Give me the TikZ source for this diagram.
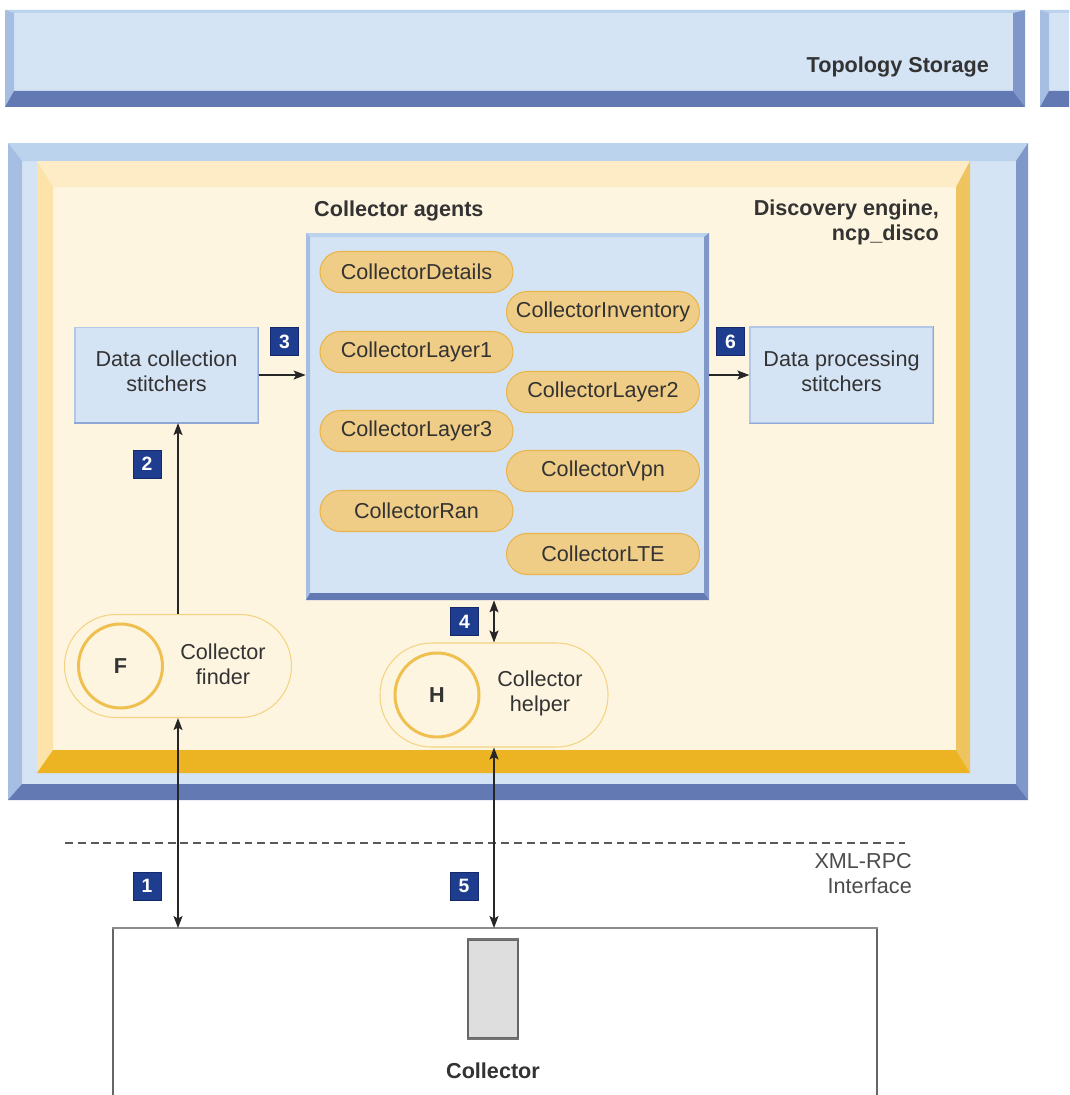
\documentclass[tikz,border=0pt]{standalone}
\usepackage{fontspec}
\setmainfont{Liberation Sans}
\usetikzlibrary{arrows.meta}

% palette
\definecolor{blFace}{HTML}{D5E4F5}
\definecolor{blTop}{HTML}{BCD3EE}
\definecolor{blLeft}{HTML}{A6BEE2}
\definecolor{blRight}{HTML}{7F97C9}
\definecolor{blBot}{HTML}{6379B3}
\definecolor{ylFace}{HTML}{FEF5E0}
\definecolor{ylTop}{HTML}{FDECC6}
\definecolor{ylLeft}{HTML}{FDE3A8}
\definecolor{ylRight}{HTML}{EEC460}
\definecolor{ylBot}{HTML}{ECB422}
\definecolor{pillFill}{HTML}{F0CD86}
\definecolor{pillLine}{HTML}{E8B44C}
\definecolor{ringLine}{HTML}{F4D383}
\definecolor{discLine}{HTML}{EFC04F}
\definecolor{badgeBlue}{HTML}{1F3D8E}
\definecolor{badgeEdge}{HTML}{15296A}
\definecolor{txt}{HTML}{333333}
\definecolor{boxLine}{HTML}{B3C8E6}
\definecolor{boxShade}{HTML}{8FA8D6}

\newcommand\pxu{0.02cm}

% bevelled frame: x1 y1 x2 y2, widths top left right bottom, palette prefix
\newcommand\bevbox[9]{%
  \fill[#9Face] (#1,#2) rectangle (#3,#4);
  \fill[#9Top] (#1,#2) -- (#3,#2) -- ({#3-#7},{#2+#5}) -- ({#1+#6},{#2+#5}) -- cycle;
  \fill[#9Left] (#1,#2) -- ({#1+#6},{#2+#5}) -- ({#1+#6},{#4-#8}) -- (#1,#4) -- cycle;
  \fill[#9Right] (#3,#2) -- (#3,#4) -- ({#3-#7},{#4-#8}) -- ({#3-#7},{#2+#5}) -- cycle;
  \fill[#9Bot] (#1,#4) -- (#3,#4) -- ({#3-#7},{#4-#8}) -- ({#1+#6},{#4-#8}) -- cycle;
}

\tikzset{
  base/.style={font=\fontsize{12.3}{14.2}\selectfont, text=txt},
  title/.style={base, font=\fontsize{12.3}{14.2}\selectfont\bfseries},
  stitchbox/.style={draw=boxLine, line width=0.7pt, fill=blFace, inner sep=0pt},
  agent/.style={base, draw=pillLine, line width=0.6pt, fill=pillFill,
    rounded corners=20.5*\pxu, minimum width=193*\pxu, minimum height=41*\pxu,
    inner sep=0pt},
  ringpill/.style={draw=ringLine, line width=0.6pt, fill=ylFace,
    rounded corners=51.5*\pxu, minimum width=227*\pxu, minimum height=103*\pxu,
    inner sep=0pt},
  disc/.style={circle, draw=discLine, line width=1.7pt, fill=ylFace,
    minimum size=84*\pxu, inner sep=0pt, base, font=\fontsize{12.3}{14.2}\selectfont\bfseries},
  badge/.style={fill=badgeBlue, draw=badgeEdge, line width=0.5pt, text=white,
    font=\fontsize{11}{12}\selectfont\bfseries, minimum width=28*\pxu,
    minimum height=28*\pxu, inner sep=0pt},
  link/.style={draw=black!85, line width=0.7pt},
  tip/.tip={Stealth[length=2.4mm, width=1.8mm, inset=0.5mm]},
}

\begin{document}
\begin{tikzpicture}[x=0.02cm, y=-0.02cm]
  \useasboundingbox (0,0) rectangle (1069,1095);
  \clip (0,0) rectangle (1069,1095);
  \fill[white] (0,0) rectangle (1069,1095);

  % storage bar and its neighbour
  \bevbox{5}{10}{1025}{107}{3}{9}{12}{16}{bl}
  \bevbox{1040}{10}{1120}{107}{3}{9}{12}{16}{bl}
  \node[title, anchor=east] (storage) at (995,67) {Topology Storage};

  % discovery engine frames
  \bevbox{8}{143}{1028}{800}{18}{14}{12}{16}{bl}
  \bevbox{37}{161}{970}{773}{26}{16}{14}{23}{yl}
  \node[title, anchor=east, align=right] (engine) at (945,222.5)
    {Discovery engine,\\ncp\_disco};

  % collector agents container
  \bevbox{306}{233}{709}{600}{4}{4}{5}{7}{bl}
  \node[inner sep=0pt, minimum width=403*\pxu, minimum height=367*\pxu]
    (agents) at (507.5,416.5) {};
  \node[title, anchor=west] (agentstitle) at (308,211) {Collector agents};

  \node[agent] (cdet) at (416.5,272) {CollectorDetails};
  \node[agent] (cinv) at (603,312) {CollectorInventory};
  \node[agent] (cl1)  at (416.5,352) {CollectorLayer1};
  \node[agent] (cl2)  at (603,392) {CollectorLayer2};
  \node[agent] (cl3)  at (416.5,431) {CollectorLayer3};
  \node[agent] (cvpn) at (603,471) {CollectorVpn};
  \node[agent] (cran) at (416.5,511) {CollectorRan};
  \node[agent] (clte) at (603,554) {CollectorLTE};

  % stitchers
  \node[stitchbox, minimum width=183*\pxu, minimum height=95*\pxu]
    (dcs) at (166.5,375) {};
  \draw[boxShade, line width=0.8pt] (dcs.north east) -- (dcs.south east) -- (dcs.south west);
  \node[base, align=center] (dcstext) at ([yshift=4*\pxu]dcs.center)
    {Data collection\\stitchers};
  \node[stitchbox, minimum width=183*\pxu, minimum height=96*\pxu]
    (dps) at (841.5,375) {};
  \draw[boxShade, line width=0.8pt] (dps.north east) -- (dps.south east) -- (dps.south west);
  \node[base, align=center] (dpstext) at ([yshift=4*\pxu]dps.center)
    {Data processing\\stitchers};

  % finder and helper
  \node[ringpill] (finder) at (178,666) {};
  \node[disc] (fdisc) at (120.5,666) {F};
  \node[base, align=center] (ftext) at (223,664) {Collector\\finder};

  \node[ringpill, minimum width=228*\pxu, minimum height=104*\pxu]
    (helper) at (494,695) {};
  \node[disc] (hdisc) at (437,695) {H};
  \node[base, align=center] (htext) at (540,693) {Collector\\helper};

  % XML-RPC boundary
  \coordinate (dashL) at (65,843);
  \coordinate (dashR) at (905,843);
  \draw[draw=black!65, line width=0.6pt, dash pattern=on 4.5pt off 2.8pt]
    (dashL) -- (dashR);
  \node[base, text=black!70, anchor=east, align=right] (xmlrpc) at (918,874)
    {XML-RPC\\Interface};

  % collector process
  \node[draw=black!60, line width=0.7pt, fill=white, minimum width=764*\pxu,
    minimum height=220*\pxu, anchor=north, inner sep=0pt] (coll) at (495,928) {};
  \draw[black!45, line width=1.4pt] (coll.north west) -- (coll.north east);
  \node[draw=black!60, line width=0.7pt, fill=black!13, minimum width=50*\pxu,
    minimum height=98*\pxu, inner sep=0pt] (slot) at (493,989) {};
  \draw[black!55, line width=1.2pt] (slot.north west) -- (slot.north east);
  \draw[black!55, line width=1.2pt] (slot.south west) -- (slot.south east);
  \node[title] (colltitle) at (493,1071) {Collector};

  % connectors
  \draw[link, tip-tip] (finder.south) -- (finder.south |- coll.north);
  \draw[link, -tip] (finder.north) -- (finder.north |- dcs.south);
  \draw[link, -tip] (dcs.east) -- (dcs.east -| agents.west);
  \draw[link, -tip] (agents.east |- dps.west) -- (dps.west);
  \draw[link, tip-tip] (helper.north) -- (helper.north |- agents.south);
  \draw[link, tip-tip] (helper.south) -- (helper.south |- coll.north);

  % step badges
  \node[badge] (b1) at (147,886) {1};
  \node[badge] (b2) at (147,464) {2};
  \node[badge] (b3) at (284.5,341.5) {3};
  \node[badge] (b4) at (464.5,621.5) {4};
  \node[badge] (b5) at (464,886) {5};
  \node[badge] (b6) at (730.5,341.5) {6};
\end{tikzpicture}
\end{document}
